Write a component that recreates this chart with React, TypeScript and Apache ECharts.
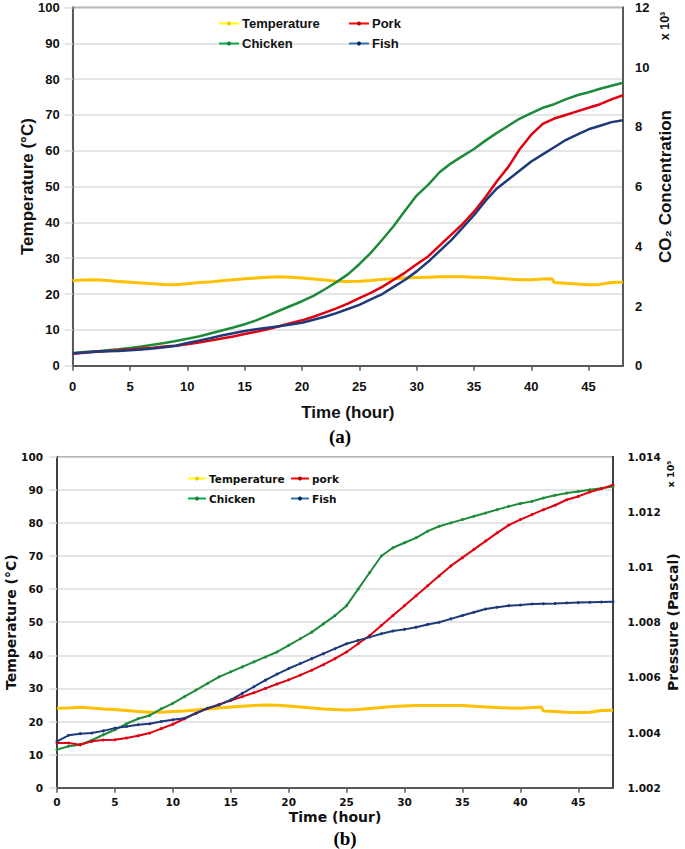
import React, { useEffect, useRef } from 'react';
import * as echarts from 'echarts';

// ---------- data ----------
const HOURS = [0,1,2,3,4,5,6,7,8,9,10,11,12,13,14,15,16,17,18,19,20,21,22,23,24,25,26,27,28,29,30,31,32,33,34,35,36,37,38,39,40,41,42,43,44,45,46,47,48];
const TEMP_HOURS = [0,1,2,3,4,5,6,7,8,9,10,11,12,13,14,15,16,17,18,19,20,21,22,23,24,25,26,27,28,29,30,31,32,33,34,35,36,37,38,39,40,41,41.8,42,43,44,45,46,47,48];

// (a) temperature (°C) and CO2 concentration (x10^3)
const TEMP_A = [23.8,23.9,24.0,23.8,23.5,23.3,23.1,22.9,22.7,22.6,22.9,23.2,23.4,23.7,24.0,24.3,24.5,24.7,24.8,24.7,24.5,24.2,23.9,23.6,23.5,23.6,23.8,24.1,24.3,24.5,24.6,24.7,24.8,24.8,24.8,24.7,24.6,24.4,24.2,24.0,24.0,24.2,24.3,23.2,23.0,22.8,22.6,22.7,23.2,23.3];
const CO2_CHICKEN = [0.42,0.46,0.48,0.52,0.55,0.59,0.64,0.70,0.76,0.83,0.90,0.98,1.08,1.18,1.28,1.39,1.52,1.68,1.84,2.00,2.16,2.34,2.56,2.80,3.06,3.40,3.78,4.22,4.68,5.20,5.70,6.06,6.48,6.78,7.02,7.26,7.54,7.80,8.04,8.28,8.46,8.64,8.76,8.92,9.06,9.16,9.28,9.38,9.48];
const CO2_PORK = [0.40,0.43,0.47,0.49,0.52,0.54,0.58,0.60,0.64,0.67,0.72,0.78,0.84,0.91,0.98,1.06,1.14,1.22,1.32,1.42,1.52,1.64,1.78,1.92,2.08,2.26,2.44,2.64,2.88,3.12,3.40,3.66,4.02,4.38,4.74,5.16,5.64,6.18,6.66,7.26,7.74,8.10,8.28,8.40,8.52,8.64,8.76,8.92,9.06];
const CO2_FISH = [0.42,0.44,0.47,0.48,0.49,0.52,0.54,0.58,0.62,0.67,0.76,0.84,0.92,1.01,1.09,1.16,1.22,1.27,1.32,1.38,1.44,1.54,1.64,1.76,1.90,2.04,2.22,2.40,2.64,2.88,3.16,3.48,3.84,4.20,4.62,5.04,5.52,5.94,6.24,6.54,6.84,7.08,7.32,7.56,7.74,7.92,8.04,8.16,8.22];

// (b) temperature (°C) and pressure (x10^5 Pa)
const TEMP_B = [24.0,24.1,24.3,24.1,23.8,23.6,23.3,23.0,22.8,22.8,23.0,23.2,23.5,23.8,24.1,24.4,24.6,24.8,25.0,24.9,24.7,24.4,24.1,23.8,23.6,23.5,23.6,23.9,24.2,24.5,24.7,24.8,24.8,24.8,24.8,24.8,24.6,24.4,24.2,24.1,24.0,24.2,24.4,23.2,23.0,22.8,22.7,22.8,23.3,23.4];
const P_PORK = [1.00362,1.00362,1.00356,1.00368,1.00373,1.00374,1.00380,1.00388,1.00398,1.00414,1.00430,1.00450,1.00470,1.00488,1.00502,1.00516,1.00530,1.00544,1.00560,1.00576,1.00591,1.00608,1.00626,1.00646,1.00668,1.00692,1.00722,1.00752,1.00788,1.00824,1.00860,1.00896,1.00932,1.00968,1.01004,1.01034,1.01064,1.01094,1.01124,1.01152,1.01172,1.01190,1.01208,1.01224,1.01244,1.01256,1.01272,1.01284,1.01298];
const P_CHICKEN = [1.00338,1.00350,1.00356,1.00372,1.00392,1.00410,1.00432,1.00450,1.00462,1.00486,1.00506,1.00530,1.00554,1.00578,1.00602,1.00620,1.00638,1.00656,1.00674,1.00692,1.00716,1.00740,1.00764,1.00794,1.00824,1.00860,1.00920,1.00980,1.01040,1.01070,1.01088,1.01106,1.01130,1.01148,1.01160,1.01172,1.01184,1.01196,1.01208,1.01220,1.01230,1.01238,1.01250,1.01260,1.01268,1.01274,1.01280,1.01286,1.01292];
const P_FISH = [1.00368,1.00390,1.00396,1.00398,1.00406,1.00416,1.00422,1.00428,1.00432,1.00440,1.00446,1.00452,1.00470,1.00488,1.00500,1.00518,1.00542,1.00566,1.00590,1.00612,1.00632,1.00650,1.00668,1.00686,1.00704,1.00722,1.00734,1.00746,1.00758,1.00768,1.00774,1.00782,1.00792,1.00800,1.00812,1.00824,1.00836,1.00848,1.00854,1.00860,1.00862,1.00866,1.00867,1.00868,1.00870,1.00871,1.00872,1.00873,1.00874];

const X_TICKS_MAX = 48;

// ---------- styles ----------
const C_TEMP = '#FFC000';
const C_CHICKEN = '#1E8B3A';
const C_PORK = '#E00010';
const C_FISH = '#1F3A7A';
const AXIS_DARK = '#595959';
const GRID_LIGHT = '#DCDCDC';
const FONT_A = 'Liberation Sans';
const FONT_B = 'DejaVu Sans';

const zip = (xs: number[], ys: number[]) => xs.map((x, i) => [x, ys[i]]);

function buildOption() {
  const lblA = { fontFamily: FONT_A, fontWeight: 'bold', fontSize: 13, color: '#111' };
  const nameA = { fontFamily: FONT_A, fontWeight: 'bold', fontSize: 17, color: '#111' };
  const lblB = { fontFamily: FONT_B, fontWeight: 'bold', fontSize: 10.5, color: '#111' };
  const nameB = { fontFamily: FONT_B, fontWeight: 'bold', fontSize: 14, color: '#111' };

  const xBase = (grid: number, lbl: any, name: any, margin: number, nameGap: number) => ({
    type: 'value', gridIndex: grid, min: 0, max: X_TICKS_MAX, interval: 5,
    axisLine: { show: true, lineStyle: { color: AXIS_DARK, width: 2 } },
    axisTick: { show: true, length: 5, lineStyle: { color: AXIS_DARK, width: 1.5 } },
    axisLabel: { ...lbl, margin, showMaxLabel: false },
    splitLine: { show: false },
    name: 'Time (hour)', nameLocation: 'middle', nameGap, nameTextStyle: name,
    nameMoveOverlap: false,
  });

  const legendCommon = (left: number, top: number, data: any[], font: any, itemWidth: number, gap: number) => ({
    orient: 'vertical', left, top, padding: 0, itemGap: gap, itemWidth, itemHeight: 5,
    selectedMode: false, data,
    textStyle: { ...font, padding: [0, 0, 0, -2] },
  });

  const legItem = (name: string, line: string, dot: string) => ({
    name, lineStyle: { color: line, width: 2 }, itemStyle: { color: dot },
  });

  const lineSeries = (name: string, data: any, color: string, xi: number, yi: number, width: number, showSymbol: boolean) => ({
    type: 'line', name, data, xAxisIndex: xi, yAxisIndex: yi,
    symbol: 'circle', symbolSize: 3, showSymbol,
    lineStyle: { color, width }, itemStyle: { color },
    emphasis: { disabled: true },
  });

  return {
    animation: false,
    backgroundColor: '#fff',
    grid: [
      { left: 72.7, top: 7.5, width: 550.3, height: 358.2, show: true, borderColor: AXIS_DARK, borderWidth: 1.5, backgroundColor: 'transparent', containLabel: false, outerBoundsMode: 'none' },
      { left: 57, top: 456.7, width: 556, height: 331, show: true, borderColor: '#404040', borderWidth: 1.5, backgroundColor: 'transparent', containLabel: false, outerBoundsMode: 'none' },
    ],
    xAxis: [
      xBase(0, lblA, nameA, 14, 38),
      xBase(1, lblB, nameB, 9, 22),
    ],
    yAxis: [
      {
        type: 'value', gridIndex: 0, position: 'left', min: 0, max: 100, interval: 10,
        axisLine: { show: true, lineStyle: { color: AXIS_DARK, width: 2 } },
        axisTick: { show: true, length: 8, lineStyle: { color: GRID_LIGHT, width: 1.5 } },
        axisLabel: { ...lblA, margin: 13 },
        splitLine: { show: true, lineStyle: { color: GRID_LIGHT, width: 1.5 } },
        name: 'Temperature (°C)', nameLocation: 'middle', nameRotate: 90, nameGap: 37, nameTextStyle: nameA,
        nameMoveOverlap: false,
      },
      {
        type: 'value', gridIndex: 0, position: 'right', min: 0, max: 12, interval: 2,
        axisLine: { show: true, lineStyle: { color: AXIS_DARK, width: 2 } },
        axisTick: { show: false },
        axisLabel: { ...lblA, margin: 12 },
        splitLine: { show: false },
        name: 'CO₂ Concentration', nameLocation: 'middle', nameRotate: 90, nameGap: 34, nameTextStyle: nameA,
        nameMoveOverlap: false,
      },
      {
        type: 'value', gridIndex: 1, position: 'left', min: 0, max: 100, interval: 10,
        axisLine: { show: true, lineStyle: { color: '#404040', width: 2 } },
        axisTick: { show: true, length: 8, lineStyle: { color: GRID_LIGHT, width: 1.5 } },
        axisLabel: { ...lblB, margin: 14 },
        splitLine: { show: true, lineStyle: { color: GRID_LIGHT, width: 1.5 } },
        name: 'Temperature (°C)', nameLocation: 'middle', nameRotate: 90, nameGap: 39, nameTextStyle: nameB,
        nameMoveOverlap: false,
      },
      {
        type: 'value', gridIndex: 1, position: 'right', min: 1.002, max: 1.014, interval: 0.002,
        axisLine: { show: true, lineStyle: { color: '#404040', width: 2 } },
        axisTick: { show: false },
        axisLabel: { ...lblB, margin: 14.5 },
        splitLine: { show: false },
        name: 'Pressure (Pascal)', nameLocation: 'middle', nameRotate: 90, nameGap: 53, nameTextStyle: nameB,
        nameMoveOverlap: false,
      },
    ],
    legend: [
      legendCommon(218, 17, [legItem('Temperature', '#FFFF00', '#FFC000'), legItem('Chicken', '#00B050', '#1E7A35')], { fontFamily: FONT_A, fontWeight: 'bold', fontSize: 13, color: '#111' }, 20, 7),
      legendCommon(348, 17, [legItem('Pork', '#FF0000', '#B00000'), legItem('Fish', '#2E75B6', '#002060')], { fontFamily: FONT_A, fontWeight: 'bold', fontSize: 13, color: '#111' }, 20, 7),
      legendCommon(187, 473, [legItem('Temperature', '#FFFF00', '#FFC000'), legItem('Chicken', '#00B050', '#1E7A35')], { fontFamily: FONT_B, fontWeight: 'bold', fontSize: 10.5, color: '#111' }, 18, 9),
      legendCommon(290, 473, [legItem('pork', '#FF0000', '#B00000'), legItem('Fish', '#2E75B6', '#002060')], { fontFamily: FONT_B, fontWeight: 'bold', fontSize: 10.5, color: '#111' }, 18, 9),
    ],
    series: [
      lineSeries('Temperature', zip(TEMP_HOURS, TEMP_A), C_TEMP, 0, 0, 3, false),
      lineSeries('Chicken', zip(HOURS, CO2_CHICKEN), C_CHICKEN, 0, 1, 2.5, false),
      lineSeries('Pork', zip(HOURS, CO2_PORK), C_PORK, 0, 1, 2.5, false),
      lineSeries('Fish', zip(HOURS, CO2_FISH), C_FISH, 0, 1, 2.5, false),
      lineSeries('Temperature', zip(TEMP_HOURS, TEMP_B), C_TEMP, 1, 2, 3, false),
      lineSeries('Chicken', zip(HOURS, P_CHICKEN), C_CHICKEN, 1, 3, 2, true),
      lineSeries('pork', zip(HOURS, P_PORK), C_PORK, 1, 3, 2, true),
      lineSeries('Fish', zip(HOURS, P_FISH), C_FISH, 1, 3, 2, true),
    ],
    graphic: [
      { type: 'text', x: 340, y: 436, style: { text: '(a)', font: 'bold 19px "Liberation Serif"', fill: '#000', textAlign: 'center', textVerticalAlign: 'middle' } },
      { type: 'text', x: 345, y: 838, style: { text: '(b)', font: 'bold 19px "Liberation Serif"', fill: '#000', textAlign: 'center', textVerticalAlign: 'middle' } },
      { type: 'text', x: 665, y: 26, rotation: Math.PI / 2, style: { text: 'x 10³', font: 'bold 12.5px "Liberation Sans"', fill: '#111', textAlign: 'center', textVerticalAlign: 'middle' } },
      { type: 'text', x: 670, y: 474, rotation: Math.PI / 2, style: { text: 'x 10⁵', font: 'bold 9.5px "DejaVu Sans"', fill: '#111', textAlign: 'center', textVerticalAlign: 'middle' } },
    ],
  };
}

export default function App() {
  const ref = useRef<HTMLDivElement>(null);
  useEffect(() => {
    if (!ref.current) return;
    const chart = echarts.init(ref.current, null, { renderer: 'svg' });
    chart.setOption(buildOption() as any);
    return () => chart.dispose();
  }, []);
  return (
    <div
      ref={ref}
      style={{ position: 'absolute', left: 0, top: 0, width: 685, height: 849, background: '#fff' }}
    />
  );
}
